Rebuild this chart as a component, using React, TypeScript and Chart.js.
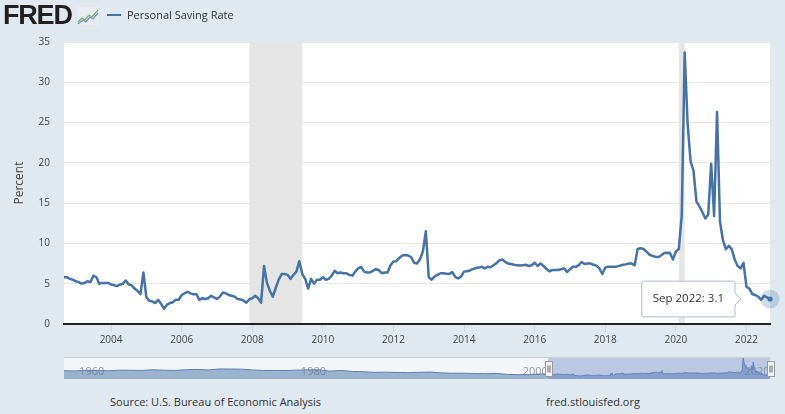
import React, { useEffect, useRef } from 'react';
import { Chart, registerables } from 'chart.js';

Chart.register(...registerables);

// ---------- data ----------
const START_YEAR = 2002;
const START_MONTH = 9; // September 2002
const MONTH_NAMES = ['Jan', 'Feb', 'Mar', 'Apr', 'May', 'Jun', 'Jul', 'Aug', 'Sep', 'Oct', 'Nov', 'Dec'];

// Personal Saving Rate, monthly, Sep 2002 .. Sep 2022 (percent)
const savingRate = [
  // Sep 2002 - Dec 2005
  5.8, 5.8, 5.6, 5.5, 5.3, 5.2, 5.0, 5.1, 5.3, 5.2, 6.0, 5.8, 5.0, 5.1, 5.1, 5.1, 4.9, 4.8, 4.7, 4.9,
  5.0, 5.4, 4.9, 4.8, 4.4, 4.1, 3.7, 6.4, 3.3, 2.9, 2.8, 2.6, 3.0, 2.5, 1.9, 2.4, 2.6, 2.7, 3.0, 3.0,
  // Jan 2006 - Apr 2009
  3.6, 3.8, 4.0, 3.8, 3.7, 3.7, 3.0, 3.2, 3.1, 3.2, 3.5, 3.3, 3.1, 3.4, 3.9, 3.8, 3.6, 3.5, 3.4, 3.1,
  3.05, 2.9, 2.65, 3.07, 3.2, 3.5, 3.2, 2.65, 7.2, 5.1, 4.1, 3.4, 4.5, 5.5, 6.2, 6.2, 6.1, 5.6, 6.1, 6.5,
  // May 2009 - Dec 2012
  7.8, 6.2, 5.6, 4.4, 5.6, 5.0, 5.5, 5.5, 5.8, 5.5, 5.6, 6.0, 6.6, 6.3, 6.4, 6.3, 6.3, 6.1, 6.0, 6.5,
  6.9, 7.1, 6.5, 6.4, 6.4, 6.6, 6.8, 6.7, 6.3, 6.4, 6.4, 7.3, 7.75, 7.8, 8.2, 8.5, 8.55, 8.5, 8.3, 7.6,
  7.5, 8.0, 9.0, 11.5,
  // Jan 2013 - Oct 2015
  5.8, 5.5, 5.9, 6.1, 6.3, 6.3, 6.25, 6.2, 6.45, 5.85, 5.65, 5.9, 6.5, 6.55, 6.65, 6.8, 6.95, 7.0, 7.1, 6.9,
  7.1, 7.05, 7.3, 7.55, 7.9, 8.0, 7.7, 7.5, 7.45, 7.35, 7.3, 7.25, 7.3, 7.35,
  // Nov 2015 - Feb 2020
  7.2, 7.3, 7.6, 7.2, 7.5, 7.2, 6.85, 6.55, 6.7, 6.7, 6.7, 6.8, 6.9, 6.45, 6.8, 7.1, 7.1, 7.3, 7.7, 7.45,
  7.5, 7.5, 7.35, 7.25, 6.9, 6.2, 7.0, 7.1, 7.1, 7.1, 7.15, 7.25, 7.35, 7.4, 7.5, 7.5, 7.3, 9.3, 9.4, 9.3,
  9.0, 8.6, 8.45, 8.35, 8.3, 8.5, 8.8, 8.85, 8.8, 8.0, 9.0, 9.3,
  // Mar 2020 - Sep 2022
  13.5, 33.7, 24.8, 20.2, 19.0, 15.2, 14.6, 13.9, 13.1, 13.6, 19.9, 13.4, 26.3, 12.7, 10.4, 9.3, 9.7, 9.3,
  8.0, 7.2, 6.9, 7.6, 4.6, 4.4, 3.7, 3.6, 3.4, 3.0, 3.5, 3.3, 3.1,
];

const yTickValues = [0, 5, 10, 15, 20, 25, 30, 35];
const xTickYears = [2004, 2006, 2008, 2010, 2012, 2014, 2016, 2018, 2020, 2022];
const recessionStarts = ['2007-12', '2020-02'];
const recessionEnds = ['2009-06', '2020-04'];

// navigator (full history, annual averages before the monthly window)
const navYears = [
  1959, 1960, 1961, 1962, 1963, 1964, 1965, 1966, 1967, 1968, 1969, 1970, 1971, 1972, 1973, 1974, 1975,
  1976, 1977, 1978, 1979, 1980, 1981, 1982, 1983, 1984, 1985, 1986, 1987, 1988, 1989, 1990, 1991, 1992,
  1993, 1994, 1995, 1996, 1997, 1998, 1999, 2000, 2001, 2002,
];
const navValues = [
  11.2, 11.0, 12.0, 11.8, 11.2, 12.2, 12.1, 11.8, 12.9, 12.2, 11.8, 13.0, 13.5, 12.6, 14.3, 14.2, 14.0,
  12.6, 11.8, 11.8, 11.7, 12.3, 12.9, 12.8, 10.5, 11.8, 10.0, 9.6, 8.5, 8.8, 8.3, 8.0, 8.5, 9.1,
  7.6, 6.9, 7.0, 6.5, 6.2, 6.6, 4.8, 4.5, 4.6, 5.6,
];
const navLabelYears = [1960, 1980, 2000, 2020];

// ---------- styling ----------
const FONT = '"Open Sans", "DejaVu Sans", sans-serif';
const LINE_COLOR = '#4572a7';
const BG = '#e1e9f0';

const ym = (s: string) => {
  const [y, m] = s.split('-').map(Number);
  return y + (m - 1) / 12;
};
const monthX = savingRate.map((_, i) => START_YEAR + (START_MONTH - 1 + i) / 12);
const lastIdx = savingRate.length - 1;

const plotBgPlugin = {
  id: 'plotBg',
  beforeDraw(chart: any) {
    const { ctx, chartArea: a } = chart;
    ctx.save();
    ctx.fillStyle = '#ffffff';
    ctx.fillRect(a.left, a.top, a.right - a.left, a.bottom - a.top);
    ctx.restore();
  },
};

const recessionPlugin = {
  id: 'recessions',
  beforeDatasetsDraw(chart: any) {
    const { ctx, chartArea: a, scales } = chart;
    ctx.save();
    ctx.fillStyle = '#e5e5e5';
    recessionStarts.forEach((s, i) => {
      const x0 = scales.x.getPixelForValue(ym(s));
      const x1 = scales.x.getPixelForValue(ym(recessionEnds[i]));
      ctx.fillRect(x0, a.top, x1 - x0, a.bottom - a.top - 1);
    });
    ctx.restore();
  },
};

const haloPlugin = {
  id: 'halo',
  afterDatasetsDraw(chart: any) {
    const el = chart.getDatasetMeta(0).data[lastIdx];
    if (!el) return;
    const { ctx } = chart;
    ctx.save();
    ctx.beginPath();
    ctx.arc(el.x, el.y, 9.5, 0, Math.PI * 2);
    ctx.fillStyle = 'rgba(69,114,167,0.25)';
    ctx.fill();
    ctx.beginPath();
    ctx.arc(el.x, el.y, 2.6, 0, Math.PI * 2);
    ctx.fillStyle = LINE_COLOR;
    ctx.fill();
    ctx.restore();
  },
};

const navPlugin = {
  id: 'navDecor',
  beforeDatasetsDraw(chart: any) {
    const { ctx, chartArea: a, scales } = chart;
    ctx.save();
    ctx.fillStyle = '#f3f5f8';
    ctx.fillRect(a.left, a.top, a.right - a.left, a.bottom - a.top);
    ctx.fillStyle = '#9a9a9a';
    ctx.font = `11px ${FONT}`;
    ctx.textBaseline = 'middle';
    navLabelYears.forEach((yr) => {
      ctx.fillText(String(yr), scales.x.getPixelForValue(yr) + 4, (a.top + a.bottom) / 2 + 4);
    });
    ctx.restore();
  },
  afterDatasetsDraw(chart: any) {
    const { ctx, chartArea: a, scales } = chart;
    const x0 = scales.x.getPixelForValue(monthX[0]);
    const x1 = scales.x.getPixelForValue(monthX[lastIdx]);
    ctx.save();
    ctx.fillStyle = 'rgba(102,133,194,0.4)';
    ctx.fillRect(x0, a.top, x1 - x0, a.bottom - a.top);
    ctx.strokeStyle = '#cccccc';
    ctx.lineWidth = 1;
    ctx.beginPath();
    ctx.moveTo(a.left, a.top + 0.5);
    ctx.lineTo(a.right, a.top + 0.5);
    ctx.stroke();
    const midY = (a.top + a.bottom) / 2;
    [x0, x1].forEach((hx) => {
      const w = 7;
      const h = 15;
      const left = Math.round(hx - w / 2) + 0.5;
      const top = Math.round(midY - h / 2) + 0.5;
      ctx.fillStyle = '#f2f2f2';
      ctx.strokeStyle = '#999999';
      ctx.fillRect(left, top, w, h);
      ctx.strokeRect(left, top, w, h);
      ctx.beginPath();
      ctx.moveTo(left + 2.5, top + 4);
      ctx.lineTo(left + 2.5, top + h - 4);
      ctx.moveTo(left + 4.5, top + 4);
      ctx.lineTo(left + 4.5, top + h - 4);
      ctx.strokeStyle = '#666666';
      ctx.stroke();
    });
    ctx.restore();
  },
};

export default function App() {
  const mainRef = useRef<HTMLCanvasElement>(null);
  const navRef = useRef<HTMLCanvasElement>(null);

  useEffect(() => {
    const mainChart = new Chart(mainRef.current as HTMLCanvasElement, {
      type: 'line',
      data: {
        datasets: [
          {
            label: 'Personal Saving Rate',
            data: savingRate.map((v, i) => ({ x: monthX[i], y: v })),
            borderColor: LINE_COLOR,
            borderWidth: 2.5,
            borderJoinStyle: 'round',
            pointRadius: 0,
            pointHoverRadius: 0,
            tension: 0,
            fill: false,
          },
        ],
      },
      options: {
        responsive: false,
        animation: false,
        events: [],
        layout: { padding: { left: 8, right: 15, top: 42, bottom: 0 } },
        plugins: {
          legend: { display: false },
          tooltip: {
            enabled: true,
            xAlign: 'right',
            yAlign: 'center',
            backgroundColor: 'rgba(255,255,255,0.96)',
            borderColor: '#a9bcd6',
            borderWidth: 1,
            bodyColor: '#333333',
            bodyFont: { family: FONT, size: 11.5 },
            padding: { left: 11, right: 11, top: 11, bottom: 11 },
            caretSize: 6,
            caretPadding: 29,
            cornerRadius: 2,
            displayColors: false,
            callbacks: {
              title: () => '',
              label: (ctx: any) => {
                const i = ctx.dataIndex;
                const m = (START_MONTH - 1 + i) % 12;
                const y = START_YEAR + Math.floor((START_MONTH - 1 + i) / 12);
                return `${MONTH_NAMES[m]} ${y}: ${savingRate[i].toFixed(1)}`;
              },
            },
          },
        },
        scales: {
          x: {
            type: 'linear',
            min: monthX[0],
            max: monthX[lastIdx],
            afterFit: (s: any) => {
              s.height = 21;
            },
            afterBuildTicks: (s: any) => {
              s.ticks = xTickYears.map((v) => ({ value: v }));
            },
            grid: {
              display: true,
              drawOnChartArea: false,
              drawTicks: true,
              tickLength: 8,
              tickColor: '#ccd6eb',
            },
            border: { display: true, color: '#222222', width: 2 },
            ticks: {
              padding: 2,
              color: '#444444',
              font: { family: FONT, size: 10 },
              maxRotation: 0,
              autoSkip: false,
              callback: (v: any) => String(v),
            },
          },
          y: {
            min: 0,
            max: 35,
            afterFit: (s: any) => {
              s.width = 56;
            },
            afterBuildTicks: (s: any) => {
              s.ticks = yTickValues.map((v) => ({ value: v }));
            },
            grid: { color: '#e6e6e6', drawTicks: false },
            border: { display: false },
            ticks: {
              padding: 14,
              color: '#444444',
              font: { family: FONT, size: 10 },
            },
            title: {
              display: true,
              text: 'Percent',
              color: '#444444',
              font: { family: FONT, size: 12 },
              padding: { top: 4, bottom: 0 },
            },
          },
        },
      },
      plugins: [plotBgPlugin, recessionPlugin, haloPlugin],
    } as any);

    const meta = mainChart.getDatasetMeta(0);
    const el: any = meta.data[lastIdx];
    mainChart.tooltip?.setActiveElements([{ datasetIndex: 0, index: lastIdx }], { x: el.x, y: el.y });
    mainChart.update();

    const navChart = new Chart(navRef.current as HTMLCanvasElement, {
      type: 'line',
      data: {
        datasets: [
          {
            data: [
              ...navYears.map((y, i) => ({ x: y, y: navValues[i] })),
              ...savingRate.map((v, i) => ({ x: monthX[i], y: v })),
            ],
            borderColor: '#5a7fb3',
            borderWidth: 1,
            backgroundColor: 'rgba(69,114,167,0.5)',
            fill: 'start',
            pointRadius: 0,
            tension: 0,
          },
        ],
      },
      options: {
        responsive: false,
        animation: false,
        events: [],
        layout: { padding: { left: 8, right: 8, top: 5, bottom: 6 } },
        plugins: { legend: { display: false }, tooltip: { enabled: false } },
        scales: {
          x: { type: 'linear', display: false, min: navYears[0], max: monthX[lastIdx] },
          y: { display: false, min: -3, max: 35 },
        },
      },
      plugins: [navPlugin],
    } as any);

    return () => {
      mainChart.destroy();
      navChart.destroy();
    };
  }, []);

  return (
    <div
      style={{
        position: 'fixed',
        left: 0,
        top: 0,
        width: 785,
        height: 414,
        background: BG,
        overflow: 'hidden',
        fontFamily: FONT,
      }}
    >
      <canvas
        ref={mainRef}
        width={785}
        height={345}
        style={{ position: 'absolute', left: 0, top: 0, width: 785, height: 345 }}
      />
      <canvas
        ref={navRef}
        width={722}
        height={33}
        style={{ position: 'absolute', left: 56, top: 352, width: 722, height: 33 }}
      />
      <div
        style={{
          position: 'absolute',
          left: 3,
          top: 0,
          fontFamily: '"Liberation Sans", Arial, sans-serif',
          fontWeight: 900,
          fontSize: 27,
          lineHeight: '30px',
          letterSpacing: '-1.2px',
          color: '#231f20',
        }}
      >
        FRED
      </div>
      <svg
        width={22}
        height={18}
        viewBox="0 0 22 18"
        style={{ position: 'absolute', left: 77, top: 7 }}
      >
        <rect x={0} y={0} width={22} height={18} fill="#e9edf1" />
        <polyline points="1,15 5,11 8,13 12,8 15,10 21,3" fill="none" stroke="#7fb069" strokeWidth={1.3} />
        <polyline points="1,17 6,13 9,15 13,10 16,12 21,6" fill="none" stroke="#6f93c4" strokeWidth={1.3} />
      </svg>
      <div
        style={{ position: 'absolute', left: 107, top: 14, width: 14, height: 2, background: LINE_COLOR }}
      />
      <div
        style={{
          position: 'absolute',
          left: 127,
          top: 6,
          fontSize: 11,
          lineHeight: '17px',
          color: '#333333',
          whiteSpace: 'nowrap',
        }}
      >
        Personal Saving Rate
      </div>
      <div
        style={{
          position: 'absolute',
          left: 110,
          top: 394,
          fontSize: 11,
          lineHeight: '16px',
          color: '#333333',
          whiteSpace: 'nowrap',
        }}
      >
        Source: U.S. Bureau of Economic Analysis
      </div>
      <div
        style={{
          position: 'absolute',
          left: 546,
          top: 394,
          fontSize: 11,
          lineHeight: '16px',
          color: '#333333',
          whiteSpace: 'nowrap',
        }}
      >
        fred.stlouisfed.org
      </div>
    </div>
  );
}
